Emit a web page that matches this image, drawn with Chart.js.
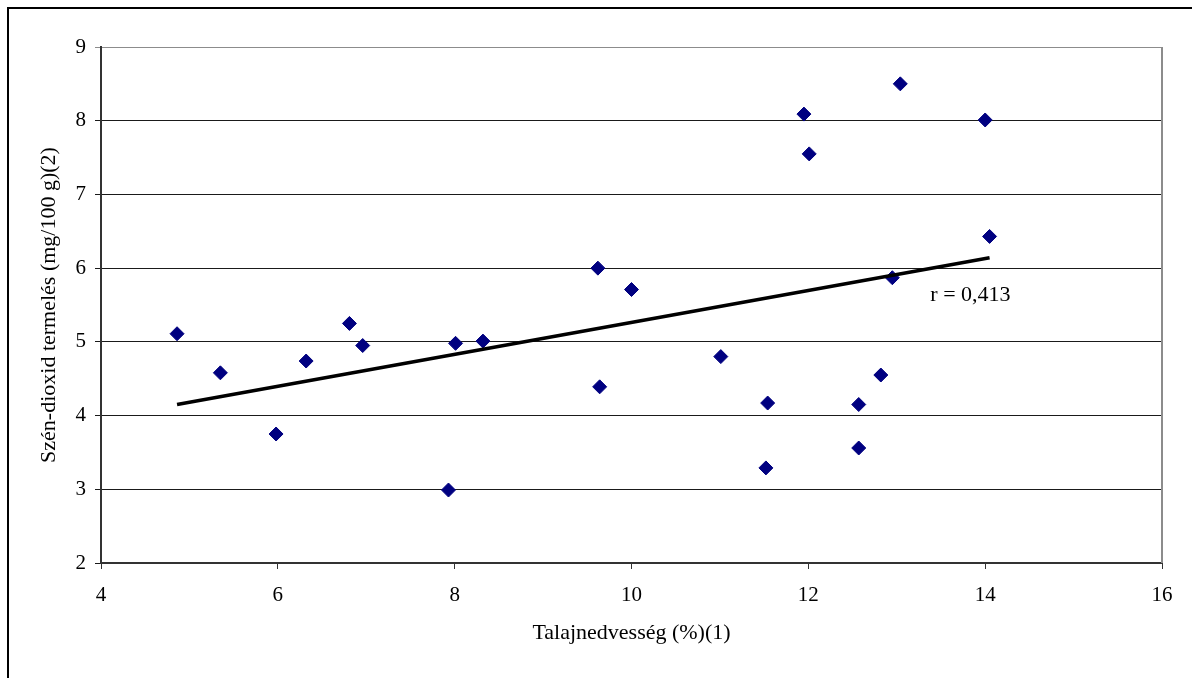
<!DOCTYPE html>
<html>
<head>
<meta charset="utf-8">
<script src="https://cdn.jsdelivr.net/npm/chart.js@4"></script>
<style>
  html, body { margin: 0; padding: 0; background: #fff; }
  #wrap { width: 1192px; height: 678px; position: relative; }
</style>
</head>
<body>
<div id="wrap"><canvas id="co2Chart"></canvas></div>
<script>
// soil moisture (%) vs CO2 production (mg/100 g)
const moisture = [4.86, 5.35, 5.98, 6.32, 6.81, 6.96, 7.93, 8.01, 8.32,
                  9.62, 10.0, 9.64, 11.01, 11.54, 11.52, 12.57, 12.57, 12.82,
                  12.95, 11.95, 12.01, 13.04, 14.0, 14.05];
const co2 = [5.11, 4.58, 3.75, 4.74, 5.25, 4.95, 2.99, 4.98, 5.01,
             6.0, 5.71, 4.39, 4.8, 4.17, 3.29, 4.15, 3.56, 4.55,
             5.87, 8.09, 7.55, 8.5, 8.01, 6.43];

// trend line end points
const trendX = [4.86, 14.05];
const trendY = [4.15, 6.14];

const xTicks = { min: 4, max: 16, step: 2 };
const yTicks = { min: 2, max: 9, step: 1 };

const rLabel = 'r = 0,413';
const rLabelAt = { x: 13.38, y: 5.55 };

const serif = '"Liberation Serif", "DejaVu Serif", serif';

// outer frame, right plot border and the r label
const decorPlugin = {
    id: 'decor',
    beforeDraw(chart) {
        const ctx = chart.ctx;
        ctx.save();
        ctx.strokeStyle = '#000';
        ctx.lineWidth = 2;
        ctx.beginPath();
        ctx.moveTo(8, chart.height);
        ctx.lineTo(8, 8);
        ctx.lineTo(chart.width, 8);
        ctx.stroke();
        ctx.restore();
    },
    afterDatasetsDraw(chart) {
        const ctx = chart.ctx;
        const a = chart.chartArea;
        ctx.save();
        ctx.strokeStyle = '#8c8c8c';
        ctx.lineWidth = 2;
        ctx.beginPath();
        ctx.moveTo(a.right, a.top);
        ctx.lineTo(a.right, a.bottom);
        ctx.stroke();

        const x = chart.scales.x.getPixelForValue(rLabelAt.x);
        const y = chart.scales.y.getPixelForValue(rLabelAt.y);
        ctx.fillStyle = '#000';
        ctx.font = '22px ' + serif;
        ctx.textAlign = 'left';
        ctx.textBaseline = 'alphabetic';
        ctx.fillText(rLabel, x, y);
        ctx.restore();
    }
};

const points = moisture.map((m, i) => ({ x: m, y: co2[i] }));
const trend = trendX.map((t, i) => ({ x: t, y: trendY[i] }));

new Chart(document.getElementById('co2Chart'), {
    type: 'scatter',
    data: {
        datasets: [{
            label: 'CO2',
            data: points,
            pointStyle: 'rectRot',
            pointRadius: 7,
            pointBackgroundColor: '#000080',
            pointBorderColor: '#000080',
            pointBorderWidth: 1,
            order: 2
        }, {
            type: 'line',
            label: 'trend',
            data: trend,
            borderColor: '#000',
            borderWidth: 3.5,
            pointRadius: 0,
            fill: false,
            order: 1
        }]
    },
    options: {
        responsive: true,
        maintainAspectRatio: false,
        animation: false,
        layout: { padding: { left: 0, top: 47, right: 30, bottom: 0 } },
        plugins: {
            legend: { display: false },
            tooltip: { enabled: false }
        },
        scales: {
            x: {
                type: 'linear',
                min: xTicks.min,
                max: xTicks.max,
                afterFit: s => { s.height = 115; },
                ticks: {
                    stepSize: xTicks.step,
                    color: '#000',
                    padding: 14,
                    font: { family: serif, size: 21 }
                },
                grid: { drawOnChartArea: false, drawTicks: true, tickLength: 6, color: '#333' },
                border: { color: '#333', width: 2 },
                title: {
                    display: true,
                    text: 'Talajnedvesség (%)(1)',
                    color: '#000',
                    font: { family: serif, size: 22 },
                    padding: { top: 0, bottom: 31.8 }
                }
            },
            y: {
                type: 'linear',
                min: yTicks.min,
                max: yTicks.max,
                afterFit: s => { s.width = 101; },
                ticks: {
                    stepSize: yTicks.step,
                    color: '#000',
                    padding: 9,
                    font: { family: serif, size: 21 }
                },
                grid: {
                    tickLength: 6,
                    lineWidth: 1,
                    color: c => (c.tick && c.tick.value === 9) ? '#8c8c8c' : '#1a1a1a'
                },
                border: { color: '#333', width: 2 },
                title: {
                    display: true,
                    text: 'Szén-dioxid termelés (mg/100 g)(2)',
                    color: '#000',
                    font: { family: serif, size: 22 },
                    padding: { top: 36, bottom: 0 }
                }
            }
        }
    },
    plugins: [decorPlugin]
});
</script>
</body>
</html>
